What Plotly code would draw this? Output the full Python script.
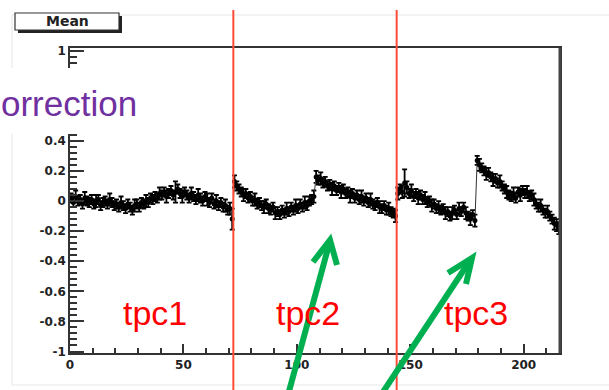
import plotly.graph_objects as go

# ---------------- data ----------------
tpc1_mean = [
    0.02, -0.01, 0.03, 0.00, 0.01, -0.02, 0.02, 0.00, -0.01, 0.01,
    -0.02, 0.00, 0.01, -0.03, -0.01, 0.00, -0.02, 0.01, -0.01, -0.03,
    -0.02, -0.04, -0.01, -0.03, -0.05, -0.02, -0.04, -0.06, -0.03, -0.02,
    -0.04, -0.01, -0.02, 0.00, -0.01, 0.02, 0.01, 0.03, 0.02, 0.05,
    0.04, 0.06, 0.03, 0.05, 0.07, 0.04, 0.06, 0.08, 0.05, 0.03,
    0.06, 0.04, 0.02, 0.05, 0.03, 0.01, 0.04, 0.02, 0.00, 0.03,
    0.01, -0.01, 0.02, -0.02, 0.00, -0.03, -0.01, -0.04, -0.03, -0.06,
    -0.05, -0.12,
]
tpc2_mean = [
    0.13, 0.10, 0.08, 0.06, 0.04, 0.05, 0.02, 0.03, 0.00, 0.01,
    -0.02, -0.01, -0.03, -0.04, -0.02, -0.05, -0.06, -0.04, -0.08, -0.07,
    -0.09, -0.06, -0.08, -0.05, -0.07, -0.04, -0.06, -0.03, -0.05, -0.02,
    -0.04, -0.01, -0.03, 0.00, 0.01, 0.03, 0.16, 0.14, 0.15, 0.12,
    0.13, 0.10, 0.11, 0.08, 0.10, 0.07, 0.09, 0.06, 0.08, 0.05,
    0.06, 0.03, 0.05, 0.02, 0.04, 0.01, 0.03, 0.00, 0.02, -0.01,
    0.01, -0.02, -0.03, -0.01, -0.04, -0.05, -0.03, -0.06, -0.05, -0.07,
    -0.08, -0.10,
]
tpc3_mean = [
    0.05, 0.08, 0.06, 0.12, 0.09, 0.05, 0.07, 0.03, 0.05, 0.02,
    0.04, 0.01, 0.02, -0.01, 0.00, -0.03, -0.02, -0.05, -0.04, -0.06,
    -0.05, -0.08, -0.07, -0.10, -0.08, -0.06, -0.09, -0.05, -0.07, -0.04,
    -0.08, -0.10, -0.12, -0.09, -0.13, 0.27, 0.24, 0.22, 0.20, 0.18,
    0.19, 0.16, 0.14, 0.15, 0.12, 0.13, 0.10, 0.08, 0.06, 0.04,
    0.03, 0.05, 0.02, 0.06, 0.04, 0.07, 0.05, 0.06, 0.03, 0.04,
    0.01, -0.02, -0.04, -0.03, -0.06, -0.08, -0.07, -0.10, -0.12, -0.15,
    -0.16, -0.18,
]
tpc1_err = [
    0.03, 0.03, 0.04, 0.03, 0.03, 0.03, 0.04, 0.03, 0.03, 0.03,
    0.03, 0.04, 0.03, 0.03, 0.03, 0.03, 0.03, 0.04, 0.03, 0.03,
    0.03, 0.03, 0.04, 0.03, 0.03, 0.03, 0.03, 0.03, 0.04, 0.03,
    0.03, 0.03, 0.03, 0.04, 0.03, 0.03, 0.03, 0.03, 0.03, 0.04,
    0.03, 0.03, 0.04, 0.03, 0.03, 0.03, 0.07, 0.03, 0.03, 0.04,
    0.03, 0.03, 0.03, 0.04, 0.03, 0.03, 0.04, 0.03, 0.03, 0.03,
    0.04, 0.03, 0.03, 0.03, 0.04, 0.03, 0.03, 0.03, 0.04, 0.03,
    0.04, 0.07,
]
tpc2_err = [
    0.04, 0.03, 0.03, 0.03, 0.04, 0.03, 0.03, 0.03, 0.03, 0.04,
    0.03, 0.03, 0.03, 0.04, 0.03, 0.03, 0.03, 0.03, 0.04, 0.03,
    0.03, 0.03, 0.03, 0.04, 0.03, 0.03, 0.03, 0.04, 0.03, 0.03,
    0.03, 0.04, 0.03, 0.03, 0.03, 0.04, 0.04, 0.03, 0.04, 0.03,
    0.03, 0.03, 0.03, 0.04, 0.03, 0.03, 0.03, 0.04, 0.03, 0.03,
    0.03, 0.04, 0.03, 0.03, 0.03, 0.03, 0.04, 0.03, 0.03, 0.03,
    0.04, 0.03, 0.03, 0.03, 0.04, 0.03, 0.03, 0.03, 0.04, 0.03,
    0.03, 0.04,
]
tpc3_err = [
    0.04, 0.03, 0.04, 0.09, 0.04, 0.03, 0.04, 0.03, 0.03, 0.04,
    0.03, 0.03, 0.04, 0.03, 0.03, 0.04, 0.03, 0.03, 0.04, 0.03,
    0.03, 0.04, 0.03, 0.03, 0.04, 0.03, 0.03, 0.04, 0.03, 0.03,
    0.04, 0.03, 0.04, 0.03, 0.04, 0.03, 0.04, 0.03, 0.03, 0.04,
    0.03, 0.03, 0.04, 0.03, 0.03, 0.04, 0.03, 0.03, 0.04, 0.03,
    0.03, 0.04, 0.03, 0.03, 0.04, 0.03, 0.03, 0.04, 0.03, 0.03,
    0.04, 0.03, 0.03, 0.04, 0.03, 0.03, 0.04, 0.03, 0.03, 0.04,
    0.04, 0.04,
]
tpc_boundaries = [72, 144]
tpc_labels = ["tpc1", "tpc2", "tpc3"]
x_ticks = [0, 50, 100, 150, 200]
y_ticks = [-1, -0.8, -0.6, -0.4, -0.2, 0, 0.2, 0.4, 0.6, 0.8, 1]
# 0.6 and 0.8 are hidden behind the title box in the reference
y_ticktext = ["-1", "-0.8", "-0.6", "-0.4", "-0.2", "0", "0.2", "0.4", "", "", "1"]

means = tpc1_mean + tpc2_mean + tpc3_mean
errs = tpc1_err + tpc2_err + tpc3_err
bins = [i + 0.5 for i in range(len(means))]
X_MAX = 216

# ---------------- layout geometry ----------------
W, H = 609, 390
L, R, T, B = 70, 49, 48, 37
PW, PH = W - L - R, H - T - B


def px(xp):
    return (xp - L) / PW


def py(yp):
    return (H - B - yp) / PH


fig = go.Figure()
fig.add_trace(go.Scatter(
    x=bins, y=means, mode="lines+markers",
    line=dict(color="#333333", width=1),
    marker=dict(color="black", size=5, symbol="circle"),
    error_y=dict(type="data", array=errs, color="black", thickness=1.8, width=2.5),
    error_x=dict(type="constant", value=0.5, color="black", thickness=1.8, width=0),
    showlegend=False, hoverinfo="skip",
))

shapes = []
# faint canvas border
shapes.append(dict(type="rect", xref="paper", yref="paper",
                   x0=px(12), x1=px(640), y0=py(385), y1=py(15),
                   line=dict(color="#e6e6e6", width=1), layer="below"))
# Mean box (shadow + box)
shapes.append(dict(type="rect", xref="paper", yref="paper",
                   x0=px(18), x1=px(122), y0=py(33), y1=py(16),
                   fillcolor="#222222", line=dict(width=0), layer="above"))
shapes.append(dict(type="rect", xref="paper", yref="paper",
                   x0=px(15), x1=px(119), y0=py(30), y1=py(13),
                   fillcolor="white", line=dict(color="#333333", width=1.2), layer="above"))
# right frame edge thicker
shapes.append(dict(type="line", xref="paper", yref="paper",
                   x0=1.0, x1=1.0, y0=0, y1=1,
                   line=dict(color="#444444", width=3), layer="above"))
# white box behind title text
shapes.append(dict(type="rect", xref="paper", yref="paper",
                   x0=px(0), x1=px(145), y0=py(134), y1=py(68),
                   fillcolor="white", line=dict(width=0), layer="above"))
# red tpc boundaries
for b in tpc_boundaries:
    shapes.append(dict(type="line", xref="paper", yref="paper",
                       x0=b / X_MAX, x1=b / X_MAX, y0=py(392), y1=py(10),
                       line=dict(color="#FF4A3A", width=2), layer="above"))

# green arrows
GREEN = "#00B050"


def path(points):
    return "M " + " L ".join(f"{px(a):.5f} {py(b):.5f}" for a, b in points)


arrows = [
    [(288, 395), (330, 241)],
    [(313, 262), (330, 240), (337, 265)],
    [(381, 395), (471, 259)],
    [(448, 273), (472, 258), (466, 284)],
]
for pts in arrows:
    shapes.append(dict(type="path", xref="paper", yref="paper", path=path(pts),
                       line=dict(color=GREEN, width=6), layer="above"))

annotations = [
    dict(text="<b>Mean</b>", xref="paper", yref="paper", x=px(67), y=py(21.5),
         xanchor="center", yanchor="middle", showarrow=False,
         font=dict(family="DejaVu Sans", size=14, color="#222222")),
    dict(text="orrection", xref="paper", yref="paper", x=px(-1), y=py(103),
         xanchor="left", yanchor="middle", showarrow=False,
         font=dict(family="Liberation Sans", size=35, color="#7030A0")),
]
label_x = [155, 308, 476]
for lab, lx in zip(tpc_labels, label_x):
    annotations.append(dict(text=lab, xref="paper", yref="paper", x=px(lx), y=py(313),
                            xanchor="center", yanchor="middle", showarrow=False,
                            font=dict(family="Liberation Sans", size=34, color="#FF0000")))

tickfont = dict(family="DejaVu Sans", size=12, color="#222222", weight="bold")

fig.update_layout(
    width=W, height=H,
    margin=dict(l=L, r=R, t=T, b=B, autoexpand=False),
    paper_bgcolor="white", plot_bgcolor="white",
    shapes=shapes, annotations=annotations,
    xaxis=dict(range=[0, X_MAX], tickmode="array", tickvals=x_ticks,
               ticks="inside", ticklen=9, tickwidth=1.5, tickcolor="#333333",
               minor=dict(dtick=10, tick0=0, ticks="inside", ticklen=5, tickwidth=1.5, tickcolor="#333333"),
               showline=True, linecolor="#333333", linewidth=1.5, mirror=True,
               showgrid=False, zeroline=False, tickfont=tickfont),
    yaxis=dict(range=[-1.01, 1.017], tickmode="array", tickvals=y_ticks, ticktext=y_ticktext,
               ticks="inside", ticklen=14, tickwidth=1.5, tickcolor="#333333",
               minor=dict(dtick=0.04, tick0=-1, ticks="inside", ticklen=7, tickwidth=1.5, tickcolor="#333333"),
               showline=True, linecolor="#333333", linewidth=1.5, mirror=True,
               showgrid=False, zeroline=False, tickfont=tickfont),
)

fig.write_html("out.html",
               config={"displayModeBar": False},
               post_script="document.body.style.margin='0';document.body.style.overflow='hidden';")
